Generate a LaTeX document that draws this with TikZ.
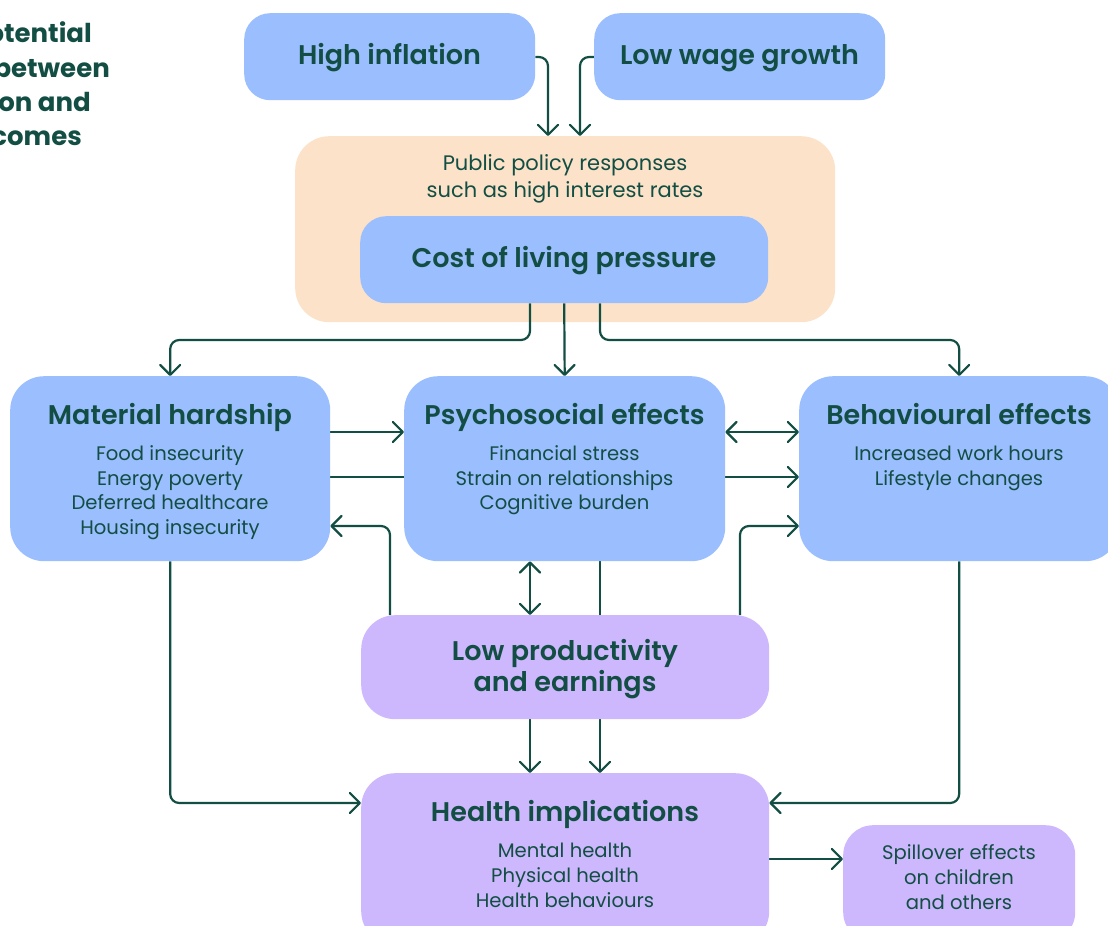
\documentclass[tikz,border=0pt]{standalone}
\usepackage{fontspec}
\setmainfont{Poppins}
\IfFontExistsTF{Poppins SemiBold}{\newfontfamily\headfont{Poppins SemiBold}}{\newcommand\headfont{\bfseries}}
\usetikzlibrary{arrows.meta}
\pgfdeclarelayer{back}
\pgfdeclarelayer{wires}
\pgfsetlayers{back,wires,main}

\definecolor{ink}{HTML}{124E43}
\definecolor{boxblue}{HTML}{9BBEFE}
\definecolor{boxpeach}{HTML}{FCE2C8}
\definecolor{boxlilac}{HTML}{CDB7FD}

\tikzset{
  panel/.style={draw=none, inner sep=0pt, anchor=north west, rounded corners=#1},
  bluebox/.style={panel=#1, fill=boxblue},
  lilacbox/.style={panel=#1, fill=boxlilac},
  peachbox/.style={panel=#1, fill=boxpeach},
  head/.style={font=\headfont\fontsize{27}{31}\selectfont, text=ink, inner sep=0pt, anchor=base},
  body/.style={font=\fontsize{19.6}{24}\selectfont, text=ink, inner sep=0pt, anchor=base},
  policy/.style={font=\fontsize{21}{27}\selectfont, text=ink, inner sep=0pt, anchor=base},
  heading/.style={font=\bfseries\fontsize{26}{30}\selectfont, text=ink, inner sep=0pt, anchor=base east},
  wire/.style={draw=ink, line width=2.2pt, rounded corners=9pt, line join=round},
  arr/.style={wire, -{Straight Barb[length=10pt,width=20pt,line join=round,line cap=round]}},
  darr/.style={wire, {Straight Barb[length=10pt,width=20pt,line join=round,line cap=round]}-{Straight Barb[length=10pt,width=20pt,line join=round,line cap=round]}},
}

\begin{document}
\begin{tikzpicture}[x=1pt,y=-1pt]
\useasboundingbox (0,0) rectangle (1108,926);
\clip (0,0) rectangle (1108,926);

% heading (left part runs off the page)
\node[heading] (h1) at (92,42) {otential};
\node[heading] (h2) at (110,77) {between};
\node[heading] (h3) at (91,111) {on and};
\node[heading] (h4) at (82,145) {comes};

% top drivers
\node[bluebox=26pt, minimum width=291pt, minimum height=87pt] (hi) at (244,13) {};
\node[bluebox=26pt, minimum width=291pt, minimum height=87pt] (lw) at (594,13) {};
\node[head] (hiT) at (389.5,64) {High inflation};
\node[head] (lwT) at (739.5,64) {Low wage growth};

% policy frame and cost of living
\begin{pgfonlayer}{back}
\node[peachbox=34pt, minimum width=540pt, minimum height=186pt] (peach) at (295,136) {};
\end{pgfonlayer}
\node[policy] (pol1) at (565,170) {Public policy responses};
\node[policy] (pol2) at (565,197) {such as high interest rates};
\node[bluebox=26pt, minimum width=408pt, minimum height=87pt] (cost) at (360,216) {};
\node[head] (costT) at (564,267) {Cost of living pressure};

% middle row
\node[bluebox=34pt, minimum width=320pt, minimum height=185pt] (mat) at (10,376) {};
\node[bluebox=34pt, minimum width=321pt, minimum height=185pt] (psy) at (404,376) {};
\node[bluebox=34pt, minimum width=320pt, minimum height=185pt] (beh) at (799,376) {};

\node[head] (matT) at (170,424) {Material hardship};
\node[body] (mat1) at (170,460) {Food insecurity};
\node[body] (mat2) at (170,485) {Energy poverty};
\node[body] (mat3) at (170,509.5) {Deferred healthcare};
\node[body] (mat4) at (170,534) {Housing insecurity};

\node[head] (psyT) at (564.5,424) {Psychosocial effects};
\node[body] (psy1) at (564.5,460) {Financial stress};
\node[body] (psy2) at (564.5,485) {Strain on relationships};
\node[body] (psy3) at (564.5,509.5) {Cognitive burden};

\node[head] (behT) at (959,424) {Behavioural effects};
\node[body] (beh1) at (959,460) {Increased work hours};
\node[body] (beh2) at (959,485) {Lifestyle changes};

% productivity and health
\node[lilacbox=34pt, minimum width=408pt, minimum height=104pt] (low) at (361,615) {};
\node[head] (low1) at (565,660) {Low productivity};
\node[head] (low2) at (565,691) {and earnings};

\node[lilacbox=34pt, minimum width=408pt, minimum height=172pt] (hl) at (361,773) {};
\node[head] (hlT) at (565,821) {Health implications};
\node[body] (hl1) at (565,857) {Mental health};
\node[body] (hl2) at (565,882) {Physical health};
\node[body] (hl3) at (565,907) {Health behaviours};

\node[lilacbox=30pt, minimum width=232pt, minimum height=117pt] (sp) at (843,825) {};
\node[body] (sp1) at (959,859) {Spillover effects};
\node[body] (sp2) at (959,884) {on children};
\node[body] (sp3) at (959,909) {and others};

% connectors
\begin{pgfonlayer}{wires}
\draw[arr] (hi.east |- 0,57) -| (peach.north -| 548,0);
\draw[arr] (lw.west |- 0,57) -| (peach.north -| 580,0);
\draw[arr] (cost.south -| 530,0) |- (mat.north |- 0,340) -- (mat.north);
\draw[arr] (cost.south) -- (psy.north);
\draw[arr] (cost.south -| 600,0) |- (beh.north |- 0,340) -- (beh.north);
\draw[arr] (mat.east |- 0,432) -- (psy.west |- 0,432);
\draw[arr] (mat.east |- 0,477) -- (beh.west |- 0,477);
\draw[darr] (psy.east |- 0,432) -- (beh.west |- 0,432);
\draw[arr] (low.north -| 390,0) |- (mat.east |- 0,526);
\draw[arr] (low.north -| 740,0) |- (beh.west |- 0,526);
\draw[darr] (psy.south -| 530,0) -- (low.north -| 530,0);
\draw[arr] (psy.south -| 600,0) -- (hl.north -| 600,0);
\draw[arr] (low.south -| 530,0) -- (hl.north -| 530,0);
\draw[arr] (mat.south) |- (hl.west |- 0,803);
\draw[arr] (beh.south) |- (hl.east |- 0,803);
\draw[arr] (hl.east |- 0,859) -- (sp.west |- 0,859);
\end{pgfonlayer}
\end{tikzpicture}
\end{document}
